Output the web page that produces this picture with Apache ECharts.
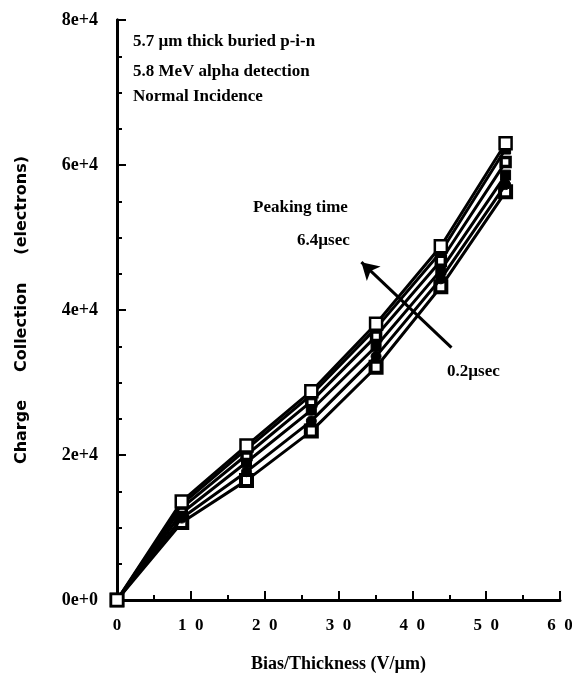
<!DOCTYPE html>
<html>
<head>
<meta charset="utf-8">
<script src="https://cdn.jsdelivr.net/npm/echarts@6/dist/echarts.min.js"></script>
<style>
html, body { margin: 0; padding: 0; background: #fff; }
#chart { width: 572px; height: 675px; }
</style>
</head>
<body>
<div id="chart"></div>
<script>
// bias / thickness points (V/um)
const fields = [0, 8.77, 17.54, 26.32, 35.09, 43.86, 52.63];
// charge collection (electrons) per peaking time
const peaking = ['6.4', '3.2', '1.6', '0.8', '0.4', '0.2'];
const q64 = [0, 13600, 21300, 28800, 38100, 48800, 63000];
const q32 = [0, 13200, 20800, 28300, 37500, 48000, 62200];
const q16 = [0, 12700, 20000, 27400, 36400, 46800, 60400];
const q08 = [0, 12000, 19000, 26200, 35000, 45500, 58600];
const q04 = [0, 11300, 17700, 24700, 33600, 44300, 57300];
const q02 = [0, 10700, 16500, 23300, 32100, 43200, 56300];
const yTicks = ['0e+0', '2e+4', '4e+4', '6e+4', '8e+4'];
const xTicks = ['0', '1  0', '2  0', '3  0', '4  0', '5  0', '6  0'];

const allQ = [q64, q32, q16, q08, q04, q02];
const markers = [
  { symbol: 'rect', size: 12, fill: '#fff', bw: 2.5 },
  { symbol: 'rect', size: 10, fill: '#000', bw: 1 },
  { symbol: 'rect', size: 9, fill: '#fff', bw: 3.5 },
  { symbol: 'rect', size: 10, fill: '#000', bw: 1 },
  { symbol: 'circle', size: 10, fill: '#000', bw: 1 },
  { symbol: 'rect', size: 11, fill: '#fff', bw: 4 }
];

const serif = 'Liberation Serif';
const note = 'bold 17px "Liberation Serif"';

const chart = echarts.init(document.getElementById('chart'));

const series = allQ.map(function (q, i) {
  const m = markers[i];
  return {
    name: peaking[i] + 'usec',
    type: 'line',
    data: fields.map(function (x, j) { return [x, q[j]]; }),
    symbol: m.symbol,
    symbolSize: m.size,
    showAllSymbol: true,
    lineStyle: { color: '#000', width: 3 },
    itemStyle: { color: m.fill, borderColor: '#000', borderWidth: m.bw },
    z: 10 - i
  };
});

// arrow pointing towards longer peaking time
series.push({
  type: 'line',
  data: [],
  silent: true,
  markLine: {
    symbol: ['none', 'arrow'],
    symbolSize: [15, 17],
    label: { show: false },
    lineStyle: { color: '#000', width: 3, type: 'solid' },
    data: [[{ coord: [45.3, 34800] }, { coord: [33.1, 46600] }]]
  }
});

const option = {
  animation: false,
  grid: { left: 117, right: 12, top: 20, bottom: 75, outerBoundsMode: 'none' },
  xAxis: [{
    type: 'value',
    min: 0, max: 60, interval: 10,
    name: 'Bias/Thickness (V/\u00b5m)',
    nameLocation: 'middle',
    nameGap: 55,
    nameTextStyle: { fontFamily: serif, fontWeight: 'bold', fontSize: 18, color: '#000' },
    axisLine: { lineStyle: { color: '#000', width: 3 } },
    axisTick: { inside: true, length: 9, lineStyle: { color: '#000', width: 2 } },
    minorTick: { show: true, splitNumber: 2, length: 5, lineStyle: { color: '#000', width: 2 } },
    splitLine: { show: false },
    axisLabel: {
      margin: 17,
      fontFamily: serif, fontWeight: 'bold', fontSize: 17, color: '#000',
      formatter: function (v) { return xTicks[Math.round(v / 10)]; }
    }
  }, {
    type: 'value', position: 'top', min: 0, max: 60,
    axisLine: { show: true, lineStyle: { color: '#000', width: 1 } },
    axisTick: { show: false }, axisLabel: { show: false }, splitLine: { show: false }
  }],
  yAxis: [{
    type: 'value',
    min: 0, max: 80000, interval: 20000,
    name: 'Charge     Collection     (electrons)',
    nameLocation: 'middle',
    nameGap: 87,
    nameTextStyle: { fontFamily: 'DejaVu Sans', fontWeight: 'bold', fontSize: 16, color: '#000' },
    axisLine: { show: true, lineStyle: { color: '#000', width: 3 } },
    axisTick: { inside: true, length: 9, lineStyle: { color: '#000', width: 2 } },
    minorTick: { show: true, splitNumber: 4, length: 5, lineStyle: { color: '#000', width: 2 } },
    splitLine: { show: false },
    axisLabel: {
      margin: 19,
      fontFamily: serif, fontWeight: 'bold', fontSize: 18, color: '#000',
      formatter: function (v) { return yTicks[Math.round(v / 20000)]; }
    }
  }, {
    type: 'value', position: 'right', min: 0, max: 80000,
    axisLine: { show: true, lineStyle: { color: '#000', width: 3 } },
    axisTick: { show: false }, axisLabel: { show: false }, splitLine: { show: false }
  }],
  graphic: [
    { type: 'text', left: 133, top: 33, style: { text: '5.7 \u00b5m thick buried p-i-n', fill: '#000', font: note } },
    { type: 'text', left: 133, top: 63, style: { text: '5.8 MeV alpha detection', fill: '#000', font: note } },
    { type: 'text', left: 133, top: 88, style: { text: 'Normal Incidence', fill: '#000', font: note } },
    { type: 'text', left: 253, top: 199, style: { text: 'Peaking time', fill: '#000', font: note } },
    { type: 'text', left: 297, top: 232, style: { text: '6.4\u00b5sec', fill: '#000', font: note } },
    { type: 'text', left: 447, top: 363, style: { text: '0.2\u00b5sec', fill: '#000', font: note } }
  ],
  series: series
};

chart.setOption(option);
</script>
</body>
</html>
